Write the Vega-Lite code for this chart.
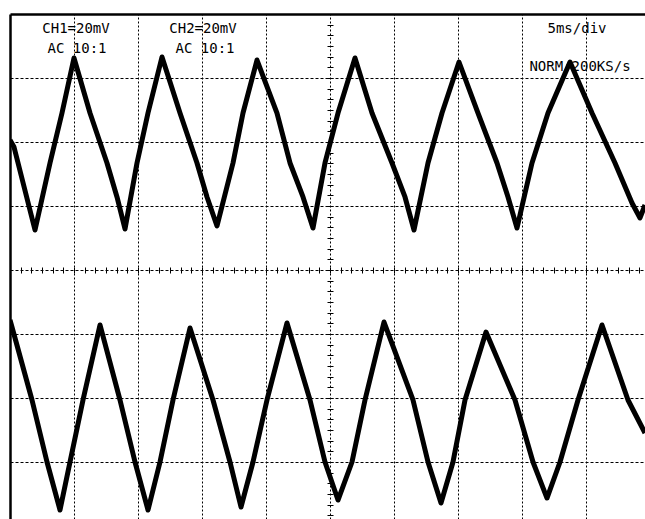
{
  "$schema": "https://vega.github.io/schema/vega-lite/v6.json",
  "width": 635,
  "height": 505,
  "autosize": {"type": "none"},
  "padding": {"left": 10, "top": 14, "right": 0, "bottom": 0},
  "background": "white",
  "datasets": {
    "ch1": [
      {"t": 0, "v": 2.031}, {"t": 0.3125, "v": 1.922}, {"t": 1.953, "v": 0.625},
      {"t": 3.125, "v": 1.672}, {"t": 4.0625, "v": 2.453}, {"t": 5.0, "v": 3.313},
      {"t": 6.25, "v": 2.453}, {"t": 7.578, "v": 1.672}, {"t": 8.359, "v": 1.141},
      {"t": 8.984, "v": 0.641}, {"t": 9.922, "v": 1.672}, {"t": 10.781, "v": 2.453},
      {"t": 11.875, "v": 3.328}, {"t": 13.281, "v": 2.453}, {"t": 14.609, "v": 1.672},
      {"t": 15.391, "v": 1.141}, {"t": 16.172, "v": 0.688}, {"t": 17.422, "v": 1.672},
      {"t": 18.203, "v": 2.453}, {"t": 19.297, "v": 3.281}, {"t": 20.859, "v": 2.453},
      {"t": 21.875, "v": 1.672}, {"t": 22.891, "v": 1.141}, {"t": 23.672, "v": 0.656},
      {"t": 24.609, "v": 1.672}, {"t": 25.625, "v": 2.453}, {"t": 26.953, "v": 3.313},
      {"t": 28.281, "v": 2.453}, {"t": 29.844, "v": 1.672}, {"t": 30.859, "v": 1.141},
      {"t": 31.563, "v": 0.625}, {"t": 32.656, "v": 1.672}, {"t": 33.75, "v": 2.453},
      {"t": 35.078, "v": 3.25}, {"t": 36.563, "v": 2.453}, {"t": 38.047, "v": 1.672},
      {"t": 38.906, "v": 1.141}, {"t": 39.609, "v": 0.656}, {"t": 40.781, "v": 1.672},
      {"t": 42.031, "v": 2.453}, {"t": 43.75, "v": 3.25}, {"t": 45.469, "v": 2.453},
      {"t": 47.266, "v": 1.672}, {"t": 48.594, "v": 1.047}, {"t": 49.219, "v": 0.813},
      {"t": 49.609, "v": 1.016}
    ],
    "ch2": [
      {"t": 0, "v": -0.781}, {"t": 0.391, "v": -1.063}, {"t": 1.719, "v": -2.031},
      {"t": 2.891, "v": -3.0}, {"t": 3.906, "v": -3.75}, {"t": 4.688, "v": -3.0},
      {"t": 5.703, "v": -2.031}, {"t": 7.031, "v": -0.859}, {"t": 8.594, "v": -2.031},
      {"t": 9.766, "v": -3.0}, {"t": 10.781, "v": -3.75}, {"t": 11.719, "v": -3.0},
      {"t": 12.734, "v": -2.031}, {"t": 14.063, "v": -0.906}, {"t": 15.859, "v": -2.031},
      {"t": 17.188, "v": -3.0}, {"t": 18.047, "v": -3.703}, {"t": 18.984, "v": -3.0},
      {"t": 20.078, "v": -2.031}, {"t": 21.641, "v": -0.828}, {"t": 23.438, "v": -2.031},
      {"t": 24.609, "v": -3.0}, {"t": 25.625, "v": -3.594}, {"t": 26.719, "v": -3.0},
      {"t": 27.734, "v": -2.031}, {"t": 29.219, "v": -0.813}, {"t": 31.484, "v": -2.031},
      {"t": 32.656, "v": -3.0}, {"t": 33.672, "v": -3.641}, {"t": 34.609, "v": -3.0},
      {"t": 35.547, "v": -2.031}, {"t": 37.188, "v": -0.969}, {"t": 39.453, "v": -2.031},
      {"t": 40.859, "v": -3.0}, {"t": 41.953, "v": -3.563}, {"t": 42.969, "v": -3.0},
      {"t": 44.375, "v": -2.031}, {"t": 46.25, "v": -0.859}, {"t": 48.281, "v": -2.031},
      {"t": 49.609, "v": -2.547}
    ],
    "labels": [
      {"label": "CH1=20mV", "t": 5.156, "v": 3.703},
      {"label": "AC 10:1", "t": 5.234, "v": 3.391},
      {"label": "CH2=20mV", "t": 15.078, "v": 3.703},
      {"label": "AC 10:1", "t": 15.234, "v": 3.391},
      {"label": "5ms/div", "t": 44.297, "v": 3.703},
      {"label": "NORM:200KS/s", "t": 44.531, "v": 3.109}
    ]
  },
  "resolve": {"axis": {"x": "independent", "y": "independent"}},
  "layer": [
    {
      "data": {"name": "labels"},
      "mark": {"type": "text", "align": "center", "baseline": "alphabetic", "font": "DejaVu Sans Mono", "fontSize": 14, "color": "black"},
      "encoding": {
        "x": {"field": "t", "type": "quantitative", "scale": {"domain": [0, 49.609], "nice": false, "zero": false}, "axis": null},
        "y": {"field": "v", "type": "quantitative", "scale": {"domain": [-3.890625, 4], "nice": false, "zero": false}, "axis": null},
        "text": {"field": "label", "type": "nominal"}
      }
    },
    {
      "data": {"name": "ch1"},
      "mark": {"type": "line", "color": "black", "strokeWidth": 5, "strokeJoin": "round", "clip": true},
      "encoding": {
        "x": {
          "field": "t", "type": "quantitative",
          "scale": {"domain": [0, 49.609], "nice": false, "zero": false},
          "axis": {
            "orient": "top", "title": null, "labels": false, "ticks": false,
            "values": [5, 10, 15, 20, 25, 30, 35, 40, 45],
            "domain": true, "domainColor": "black", "domainWidth": 2.5,
            "grid": true, "gridColor": "black", "gridWidth": 1, "gridOpacity": 1, "gridDash": [2, 2]
          }
        },
        "y": {
          "field": "v", "type": "quantitative",
          "scale": {"domain": [-3.890625, 4], "nice": false, "zero": false},
          "axis": {
            "orient": "left", "title": null, "labels": false, "ticks": false,
            "values": [-3, -2, -1, 0, 1, 2, 3],
            "domain": true, "domainColor": "black", "domainWidth": 2.5,
            "grid": true, "gridColor": "black", "gridWidth": 1, "gridOpacity": 1, "gridDash": [3, 2]
          }
        }
      }
    },
    {
      "data": {"name": "ch2"},
      "mark": {"type": "line", "color": "black", "strokeWidth": 5, "strokeJoin": "round", "clip": true},
      "encoding": {
        "x": {
          "field": "t", "type": "quantitative",
          "scale": {"domain": [0, 49.609], "nice": false, "zero": false},
          "axis": {
            "orient": "bottom", "offset": -252, "title": null, "labels": false,
            "domain": false, "grid": false,
            "ticks": true, "tickSize": 6, "tickColor": "black", "tickWidth": 1,
            "values": [0.8333, 1.6667, 2.5, 3.3333, 4.1667, 5, 5.8333, 6.6667, 7.5, 8.3333, 9.1667, 10, 10.8333, 11.6667, 12.5, 13.3333, 14.1667, 15, 15.8333, 16.6667, 17.5, 18.3333, 19.1667, 20, 20.8333, 21.6667, 22.5, 23.3333, 24.1667, 25, 25.8333, 26.6667, 27.5, 28.3333, 29.1667, 30, 30.8333, 31.6667, 32.5, 33.3333, 34.1667, 35, 35.8333, 36.6667, 37.5, 38.3333, 39.1667, 40, 40.8333, 41.6667, 42.5, 43.3333, 44.1667, 45, 45.8333, 46.6667, 47.5, 48.3333, 49.1667]
          }
        },
        "y": {
          "field": "v", "type": "quantitative",
          "scale": {"domain": [-3.890625, 4], "nice": false, "zero": false},
          "axis": {
            "orient": "left", "offset": -323, "title": null, "labels": false,
            "domain": false, "grid": false,
            "ticks": true, "tickSize": 6, "tickColor": "black", "tickWidth": 1,
            "values": [-3.8333, -3.6667, -3.5, -3.3333, -3.1667, -3, -2.8333, -2.6667, -2.5, -2.3333, -2.1667, -2, -1.8333, -1.6667, -1.5, -1.3333, -1.1667, -1, -0.8333, -0.6667, -0.5, -0.3333, -0.1667, 0, 0.1667, 0.3333, 0.5, 0.6667, 0.8333, 1, 1.1667, 1.3333, 1.5, 1.6667, 1.8333, 2, 2.1667, 2.3333, 2.5, 2.6667, 2.8333, 3, 3.1667, 3.3333, 3.5, 3.6667, 3.8333]
          }
        }
      }
    }
  ],
  "config": {"view": {"stroke": null}}
}
